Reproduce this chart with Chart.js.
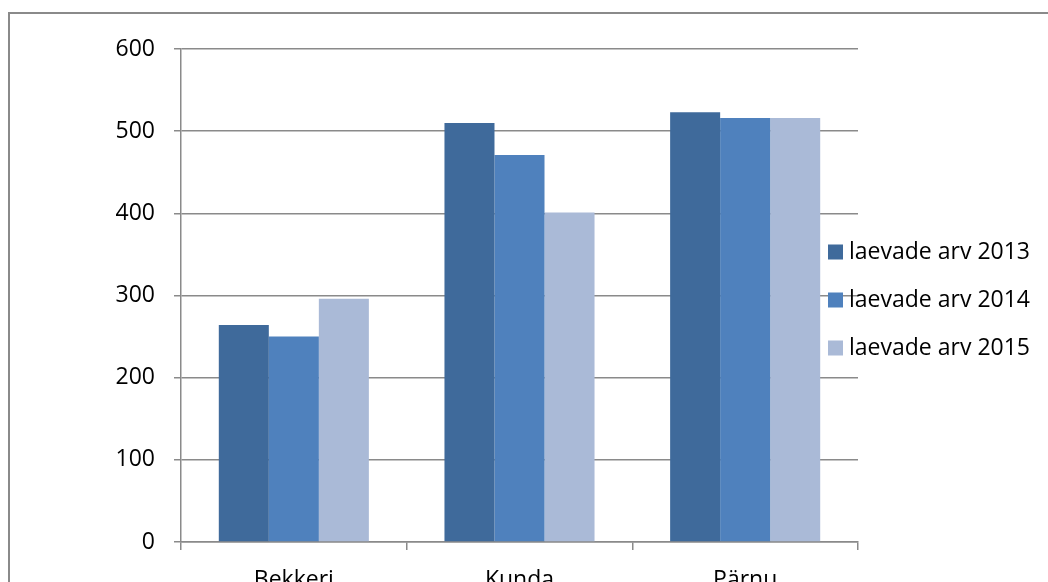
<!DOCTYPE html>
<html>
<head>
<meta charset="utf-8">
<script src="https://cdn.jsdelivr.net/npm/chart.js@4"></script>
<style>
  html, body { margin: 0; padding: 0; background: #fff; overflow: hidden; width: 1048px; height: 582px; }
  #frame { position: absolute; left: 8px; top: 12px; width: 1100px; height: 700px; border-left: 2px solid #8a8a8a; border-top: 2px solid #8a8a8a; box-sizing: border-box; }
  #wrap { position: absolute; left: 0; top: 0; width: 1048px; height: 620px; }
</style>
</head>
<body>
<div id="frame"></div>
<div id="wrap"><canvas id="myChart" width="1048" height="620"></canvas></div>
<script>
// kategooriad ja andmed
var categories = ['Bekkeri', 'Kunda', 'Pärnu']
var seriesNames = ['laevade arv 2013', 'laevade arv 2014', 'laevade arv 2015']
var values2013 = [264, 510, 523]
var values2014 = [250, 471, 516]
var values2015 = [296, 401, 516]
var yTicks = [0, 100, 200, 300, 400, 500, 600]

var colors = ['#3F6A9B', '#4F81BD', '#AABAD7']
var gridColor = '#8a8a8a'
var fontFamily = '"Open Sans", sans-serif'

// legend joonistatakse käsitsi, sest see kattub joonisealaga
var sideLegend = {
	id: 'sideLegend',
	afterDraw: function (chart) {
		var ctx = chart.ctx
		ctx.save()
		ctx.font = '23px ' + fontFamily
		ctx.textBaseline = 'middle'
		ctx.fillStyle = '#000'
		chart.data.datasets.forEach(function (ds, i) {
			var y = 252 + i * 48
			ctx.fillStyle = ds.backgroundColor
			ctx.fillRect(828, y - 7.5, 15, 15)
			ctx.fillStyle = '#000'
			ctx.fillText(ds.label, 849, y)
		})
		ctx.restore()
	}
}

var ctx = document.getElementById('myChart').getContext('2d')
var myChart = new Chart(ctx, {
	type: 'bar',
	data: {
		labels: categories,
		datasets: [
			{ label: seriesNames[0], data: values2013, backgroundColor: colors[0] },
			{ label: seriesNames[1], data: values2014, backgroundColor: colors[1] },
			{ label: seriesNames[2], data: values2015, backgroundColor: colors[2] }
		]
	},
	options: {
		responsive: false,
		animation: false,
		layout: { padding: { top: 49, right: 190, left: 0, bottom: 0 } },
		categoryPercentage: 0.665,
		barPercentage: 1,
		plugins: {
			legend: { display: false },
			tooltip: { enabled: false }
		},
		scales: {
			x: {
				grid: { drawOnChartArea: false, drawTicks: true, tickLength: 8, color: gridColor, lineWidth: 1.5, offset: true },
				border: { display: true, color: gridColor, width: 1.5 },
				ticks: { color: '#000', font: { family: fontFamily, size: 23 }, padding: 17 },
				afterFit: function (s) { s.height = 78 }
			},
			y: {
				min: 0,
				max: 600,
				afterBuildTicks: function (s) { s.ticks = yTicks.map(function (v) { return { value: v } }) },
				grid: { color: gridColor, lineWidth: 1.5, tickLength: 7 },
				border: { display: true, color: gridColor, width: 1.5 },
				ticks: { color: '#000', font: { family: fontFamily, size: 23 }, padding: 19 },
				afterFit: function (s) { s.width = 181 }
			}
		}
	},
	plugins: [sideLegend]
})
</script>
</body>
</html>
